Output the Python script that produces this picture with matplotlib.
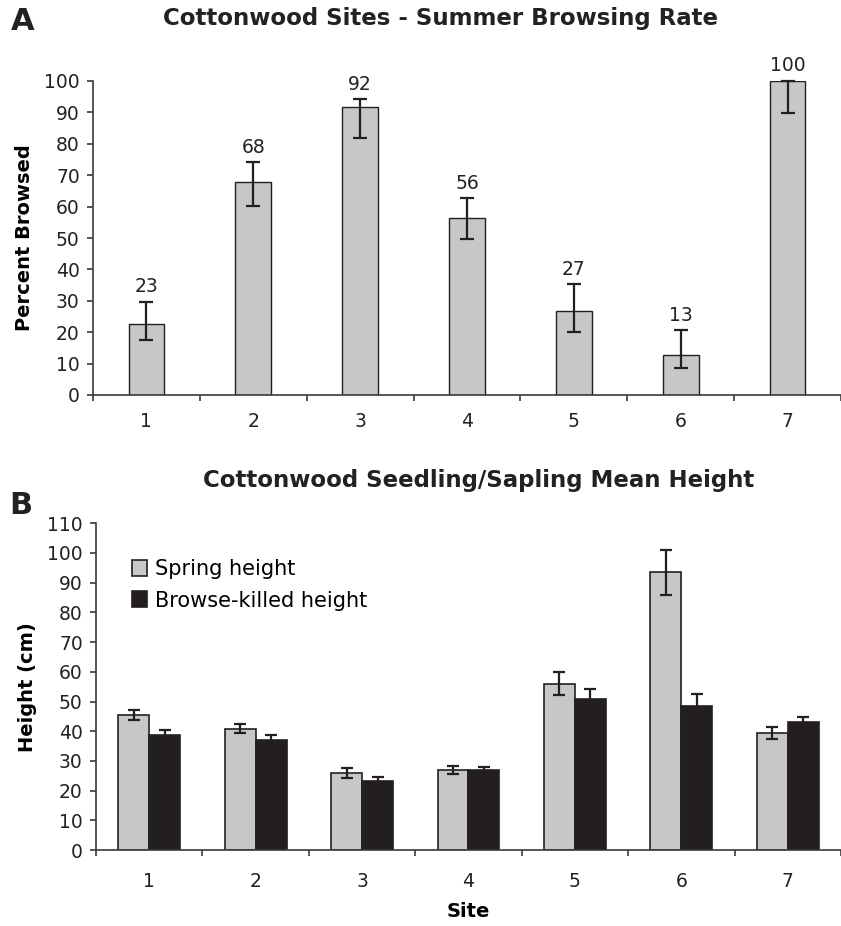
import numpy as np
import matplotlib
matplotlib.use("Agg")
import matplotlib.pyplot as plt

# Panel A - summer browsing rate
sites = [1, 2, 3, 4, 5, 6, 7]
browse_rate = [22.7, 67.9, 91.6, 56.3, 26.6, 12.8, 100.0]
rate_err_up = [7.0, 6.2, 2.6, 6.4, 8.7, 7.8, 0.0]
rate_err_down = [5.2, 7.6, 9.6, 6.7, 6.6, 4.1, 10.3]

# Panel B - mean height
spring_height = [45.5, 40.8, 25.9, 26.9, 56.0, 93.5, 39.4]
spring_err = [1.6, 1.5, 1.7, 1.3, 3.9, 7.6, 2.1]
killed_height = [38.6, 36.9, 23.3, 26.8, 50.8, 48.6, 43.0]
killed_err = [1.8, 1.7, 1.4, 1.3, 3.4, 3.8, 1.8]

gray = "#c6c7c9"
black = "#231f20"
axcol = "#3a3a3a"

plt.rcParams["font.family"] = ["DejaVu Sans"]

fig = plt.figure(figsize=(8.41, 9.26), dpi=100)
axA = fig.add_axes([93 / 841, 1 - 395 / 926, 1 - 93 / 841, (395 - 81) / 926])
axB = fig.add_axes([96 / 841, 1 - 850 / 926, 1 - 96 / 841, (850 - 523.3) / 926])

x = np.array(sites)


def style_axis(ax, ymax, ystep, xpad):
    ax.set_xlim(0.5, 7.5)
    ax.set_ylim(0, ymax)
    ax.set_yticks(np.arange(0, ymax + 1, ystep))
    for s in ["top", "right"]:
        ax.spines[s].set_visible(False)
    for s in ["left", "bottom"]:
        ax.spines[s].set_color(axcol)
        ax.spines[s].set_linewidth(1.2)
    # ticks between categories, labels at centers
    ax.set_xticks(np.arange(0.5, 7.6, 1.0))
    ax.set_xticklabels([])
    ax.set_xticks(x, minor=True)
    ax.set_xticklabels([str(s) for s in sites], minor=True)
    ax.tick_params(axis="x", which="major", direction="out", length=4.5,
                   width=1.2, color=axcol)
    ax.tick_params(axis="x", which="minor", length=0, pad=xpad,
                   labelsize=13.5, labelcolor="#222222")
    ax.tick_params(axis="y", direction="out", length=4.5, width=1.2,
                   color=axcol, labelsize=13.5, labelcolor="#222222", pad=5)


# ---- Panel A
axA.bar(x, browse_rate, width=0.335, color=gray, edgecolor=black, linewidth=1.0, zorder=2)
axA.errorbar(x, browse_rate, yerr=[rate_err_down, rate_err_up], fmt="none",
             ecolor=black, elinewidth=1.6, capsize=5, capthick=1.6, zorder=3,
             clip_on=False)
for xi, v, e in zip(x, browse_rate, rate_err_up):
    axA.annotate(str(int(round(v))), (xi, v + e), xytext=(0, 4),
                 textcoords="offset points", ha="center", va="bottom",
                 fontsize=13.5, color="#222222", annotation_clip=False)
style_axis(axA, 100, 10, 12)
axA.set_ylabel("Percent Browsed", fontsize=14, fontweight="bold", labelpad=7)

# ---- Panel B
w = 0.29
axB.bar(x - w / 2, spring_height, width=w, color=gray, edgecolor=black,
        linewidth=1.2, label="Spring height", zorder=2)
axB.bar(x + w / 2, killed_height, width=w, color=black, edgecolor=black,
        linewidth=1.2, label="Browse-killed height", zorder=2)
axB.errorbar(x - w / 2, spring_height, yerr=spring_err, fmt="none", ecolor=black,
             elinewidth=1.6, capsize=4, capthick=1.6, zorder=3)
axB.errorbar(x + w / 2, killed_height, yerr=killed_err, fmt="none", ecolor=black,
             elinewidth=1.6, capsize=4, capthick=1.6, zorder=3)
style_axis(axB, 110, 10, 16)
axB.set_ylabel("Height (cm)", fontsize=14, fontweight="bold", labelpad=7)
axB.set_xlabel("Site", fontsize=14, fontweight="bold", labelpad=8)
axB.legend(loc="upper left", bbox_to_anchor=(0.048, 0.89), frameon=False,
           fontsize=15, handlelength=0.75, handleheight=0.8,
           handletextpad=0.35, labelspacing=0.55, borderpad=0, borderaxespad=0)

# titles and panel letters
fig.text(441 / 841, 1 - 19 / 926, "Cottonwood Sites - Summer Browsing Rate",
         ha="center", va="center", fontsize=16.5, fontweight="bold", color="#222222")
fig.text(479 / 841, 1 - 480 / 926, "Cottonwood Seedling/Sapling Mean Height",
         ha="center", va="center", fontsize=16.5, fontweight="bold", color="#222222")
fig.text(23 / 841, 1 - 22 / 926, "A", ha="center", va="center",
         fontsize=22, fontweight="bold", color="#222222")
fig.text(21 / 841, 1 - 506 / 926, "B", ha="center", va="center",
         fontsize=22, fontweight="bold", color="#222222")

fig.savefig("out.png", dpi=100)
